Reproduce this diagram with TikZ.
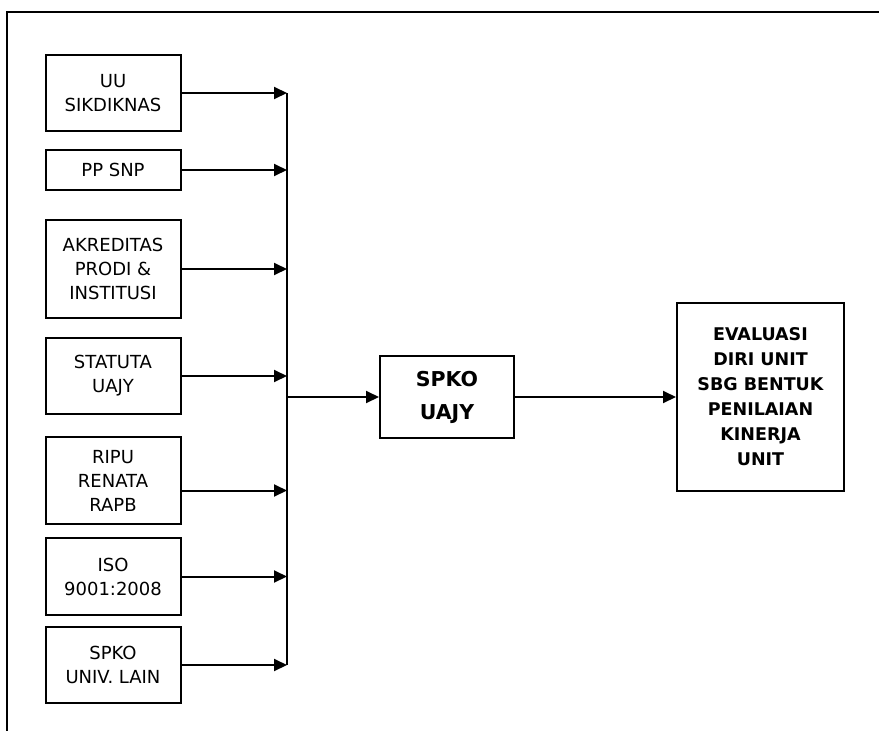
\documentclass[tikz,border=0pt]{standalone}
\usepackage{fontspec}
\setmainfont{DejaVu Sans}
\usepackage{tikz}
\usetikzlibrary{arrows.meta, positioning}

\begin{document}
\begin{tikzpicture}[
  x=1pt, y=-1pt,
  srcbox/.style={
    draw, line width=2pt, minimum width=135pt,
    inner sep=2pt, align=center,
    font=\fontsize{18}{24}\selectfont
  },
  mainbox/.style={
    draw, line width=2pt, minimum width=134pt, minimum height=82pt,
    align=center, font=\fontsize{20.5}{33}\selectfont\bfseries
  },
  outbox/.style={
    draw, line width=2pt, minimum width=167pt, minimum height=188pt,
    align=center, font=\fontsize{17.5}{25}\selectfont\bfseries
  },
  arrow/.style={-{Triangle[length=13pt,width=12pt]}, line width=2pt},
  line/.style={line width=2pt},
]
\useasboundingbox (0,0) rectangle (879,731);

% frame
\draw[line width=2.2pt] (7,731) -- (7,12) -- (879,12);

% inputs
\node[srcbox, minimum height=76pt] at (113,93) (uu) {UU\\SIKDIKNAS};
\node[srcbox, minimum height=40pt, below=17pt of uu]   (pp)   {PP SNP};
\node[srcbox, minimum height=98pt, below=28pt of pp]   (akr)  {AKREDITAS\\PRODI \&\\INSTITUSI};
\node[srcbox, minimum height=76pt, below=18pt of akr]  (stat) {STATUTA\\UAJY};
\node[srcbox, minimum height=87pt, below=21pt of stat] (ripu) {RIPU\\RENATA\\RAPB};
\node[srcbox, minimum height=77pt, below=12pt of ripu] (iso)  {ISO\\9001:2008};
\node[srcbox, minimum height=76pt, below=10pt of iso]  (lain) {SPKO\\UNIV. LAIN};

\coordinate (bus) at (287,0);

\node[mainbox] at (447,397) (spko) {SPKO\\UAJY};
\node[outbox, right=161pt of spko] (eval)
  {EVALUASI\\DIRI UNIT\\SBG BENTUK\\PENILAIAN\\KINERJA\\UNIT};

% connectors
\draw[line]  (uu.east -| bus) -- (lain.east -| bus);
\foreach \n in {uu, pp, akr, stat, iso, lain}
  \draw[arrow] (\n.east) -- (\n.east -| bus);
\draw[arrow] ([yshift=-10pt]ripu.east) -- ([yshift=-10pt]ripu.east -| bus);
\draw[arrow] (spko.west -| bus) -- (spko);
\draw[arrow] (spko) -- (eval);

\end{tikzpicture}
\end{document}
